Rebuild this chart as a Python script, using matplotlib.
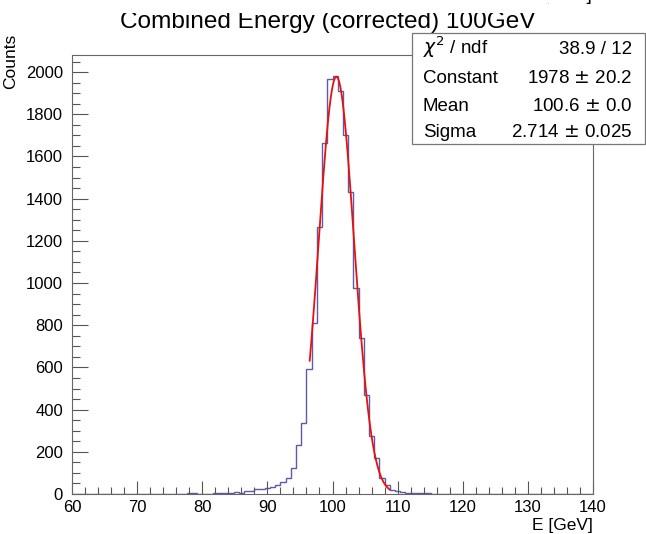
import matplotlib
matplotlib.use("Agg")
import matplotlib.pyplot as plt
import numpy as np
from matplotlib.patches import Rectangle
from matplotlib.ticker import MultipleLocator

plt.rcParams["font.family"] = ["Liberation Sans", "DejaVu Sans"]

# ── Histogram data: 100 bins of 0.8 GeV from 60 to 140 ───────────────────────
bin_edges = np.linspace(60, 140, 101)
counts = [
    0, 0, 0, 0, 2, 0, 2, 0, 0, 0,
    0, 0, 2, 0, 0, 0, 2, 0, 2, 2,
    2, 0, 3, 3, 0, 0, 0, 3, 3, 4,
    5, 11, 6, 14, 16, 24, 26, 28, 35, 45,
    58, 78, 122, 232, 335, 591, 812, 1267, 1662, 1967,
    1982, 1911, 1700, 1430, 975, 738, 470, 275, 169, 74,
    41, 20, 14, 11, 6, 6, 5, 3, 3, 2,
    0, 0, 0, 0, 0, 0, 0, 0, 0, 0,
    0, 0, 0, 0, 0, 0, 0, 0, 0, 0,
    0, 0, 0, 0, 0, 0, 0, 0, 0, 0,
]

# Gaussian fit result (from the stats box)
fit_const = 1978.0
fit_mean = 100.6
fit_sigma = 2.714
fit_range = (96.5, 108.8)

stat_names = ["$\\chi^2$ / ndf", "Constant", "Mean", "Sigma"]
stat_values = ["38.9 / 12", "1978 $\\pm$ 20.2", "100.6 $\\pm$ 0.0", "2.714 $\\pm$ 0.025"]

W, H = 646, 534

def fx(px):
    return px / W

def fy(py):
    return 1 - py / H

fig = plt.figure(figsize=(W / 100, H / 100), dpi=100)
fig.patch.set_facecolor("white")
ax = fig.add_axes([fx(72), fy(494), fx(593) - fx(72), fy(55) - fy(494)])

# ── Histogram + fit ─────────────────────────────────────────────────────────
ax.stairs(counts, bin_edges, color="#5b5ba8", linewidth=1.0)
xf = np.linspace(fit_range[0], fit_range[1], 200)
yf = fit_const * np.exp(-0.5 * ((xf - fit_mean) / fit_sigma) ** 2)
ax.plot(xf, yf, color="#e8100e", linewidth=1.3)

ax.set_xlim(60, 140)
ax.set_ylim(0, 2081)
ax.set_xticks(np.arange(60, 141, 10))
ax.set_yticks(np.arange(0, 2001, 200))
ax.xaxis.set_minor_locator(MultipleLocator(2))
ax.yaxis.set_minor_locator(MultipleLocator(50))
ax.tick_params(which="both", direction="in", colors="#555555", labelcolor="black",
               labelsize=12, width=0.8)
ax.tick_params(axis="x", which="major", length=9.5, pad=4.5)
ax.tick_params(axis="x", which="minor", length=5)
ax.tick_params(axis="y", which="major", length=11.5, pad=6.5)
ax.tick_params(axis="y", which="minor", length=5.8)
for sp in ax.spines.values():
    sp.set_color("#666666")
    sp.set_linewidth(0.8)

# axis titles
fig.text(fx(593), fy(530), "E [GeV]", ha="right", va="baseline", fontsize=12.5)
fig.text(fx(11), fy(34), "Counts", rotation=90, ha="center", va="top", fontsize=12.5)

# ── Title, its top hidden by the pad edge ───────────────────────────────────
fig.text(fx(328), fy(28), "Combined Energy (corrected) 100GeV", ha="center",
         va="baseline", fontsize=17.6, zorder=3)
fig.add_artist(Rectangle((0, fy(13)), fx(548), 1 - fy(13), transform=fig.transFigure,
                         facecolor="white", edgecolor="none", zorder=10))
fig.text(fx(592), fy(0.3), "[GeV]", ha="right", va="baseline", fontsize=14)

# ── Stats box ───────────────────────────────────────────────────────────────
box = Rectangle((fx(412), fy(144)), fx(645) - fx(412), fy(33) - fy(144),
                transform=fig.transFigure, facecolor="white", edgecolor="#777777",
                linewidth=0.9, zorder=5)
fig.add_artist(box)
row_base = [54, 83, 111, 137]
for name, val, yb in zip(stat_names, stat_values, row_base):
    fig.text(fx(423), fy(yb), name, ha="left", va="baseline", fontsize=13.5, zorder=6)
    fig.text(fx(632), fy(yb), val, ha="right", va="baseline", fontsize=13.5, zorder=6)

fig.savefig("out.png", dpi=100, facecolor="white")
